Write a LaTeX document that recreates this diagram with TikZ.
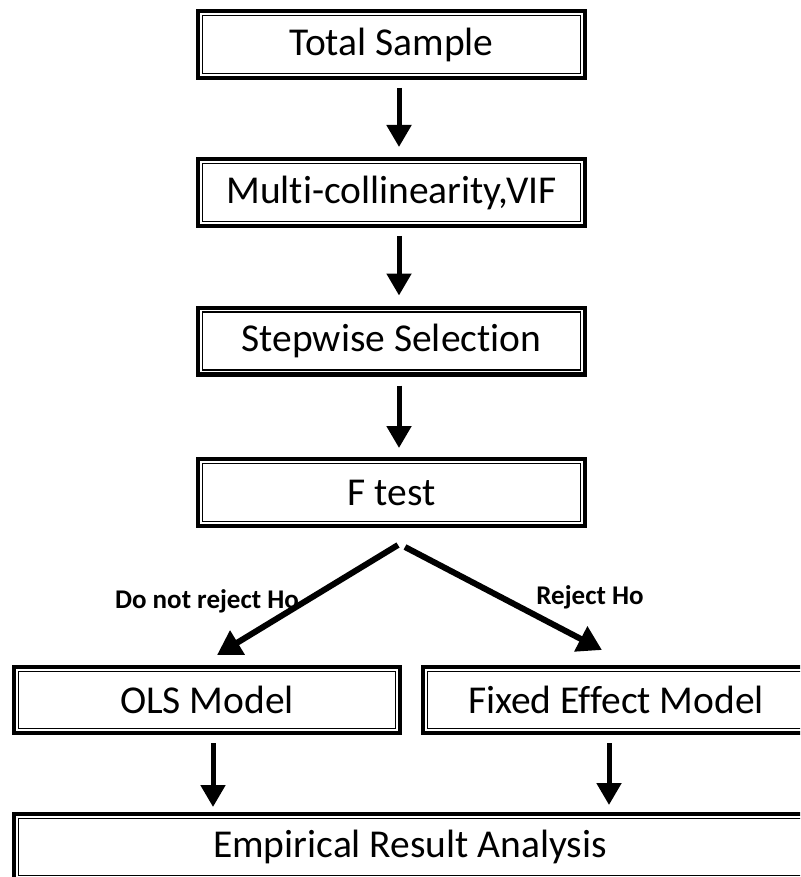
\documentclass[tikz,border=0pt]{standalone}
\usepackage{fontspec}
\setmainfont[Ligatures=NoCommon]{Carlito}
\usetikzlibrary{arrows.meta,calc}
\begin{document}
\begin{tikzpicture}[x=1pt,y=-1pt,
  dbox/.style={minimum width=391pt, minimum height=71pt, inner sep=0pt, outer sep=0pt,
    font=\fontsize{39.5}{42}\selectfont},
  lbl/.style={font=\fontsize{27}{30}\selectfont\bfseries, inner sep=0pt},
  arr/.style={line width=5pt, -{Triangle[length=22pt,width=24pt]}},
  darr/.style={line width=6pt, -{Triangle[length=24pt,width=27pt]}}
]
\useasboundingbox (0,0) rectangle (800,877);
\clip (0,0) rectangle (800,877);

\node[dbox] (b1) at (391.5,44.5) {Total Sample};
\node[dbox] (b2) at (391.5,192.5) {Multi-collinearity,VIF};
\node[dbox] (b3) at (391.5,341) {Stepwise Selection};
\node[dbox] (b4) at (391.5,492.5) {F test};
\node[dbox, minimum width=390pt, minimum height=70pt] (ols) at (207,700) {OLS Model};
\node[dbox, minimum width=390pt, minimum height=70pt] (fe) at (616,700) {Fixed Effect Model};
\node[dbox, minimum width=796pt, minimum height=70pt] (emp) at (410,847) {Empirical Result Analysis};

\foreach \n in {b1,b2,b3,b4,ols,fe,emp}{
  \draw[line width=4.2pt] ([shift={(2.1pt,-2.1pt)}]\n.north west) rectangle ([shift={(-2.1pt,2.1pt)}]\n.south east);
  \draw[line width=1.6pt] ([shift={(6.5pt,-6.5pt)}]\n.north west) rectangle ([shift={(-6.5pt,6.5pt)}]\n.south east);
}

\draw[arr, shorten <=8pt, shorten >=10pt] ([xshift=7.5pt]b1.south) -- ([xshift=7.5pt]b2.north);
\draw[arr, shorten <=8pt, shorten >=10pt] ([xshift=7.5pt]b2.south) -- ([xshift=7.5pt]b3.north);
\draw[arr, shorten <=9pt, shorten >=9pt] ([xshift=7.5pt]b3.south) -- ([xshift=7.5pt]b4.north);

\coordinate (olsd) at ([xshift=6pt]ols.south);
\coordinate (fed) at ([xshift=-7pt]fe.south);
\draw[arr, shorten <=8pt, shorten >=5pt] (olsd) -- (olsd |- emp.north);
\draw[arr, shorten <=8pt, shorten >=7pt] (fed) -- (fed |- emp.north);

\draw[darr] ([xshift=6.5pt,yshift=-17pt]b4.south) -- ([xshift=10pt,yshift=10pt]ols.north);
\draw[darr] ([xshift=13.5pt,yshift=-19pt]b4.south) -- ([xshift=-14pt,yshift=15pt]fe.north);

\node[lbl] (l1) at (207,601) {Do not reject Ho};
\node[lbl] (l2) at (590,597) {Reject Ho};
\end{tikzpicture}
\end{document}
